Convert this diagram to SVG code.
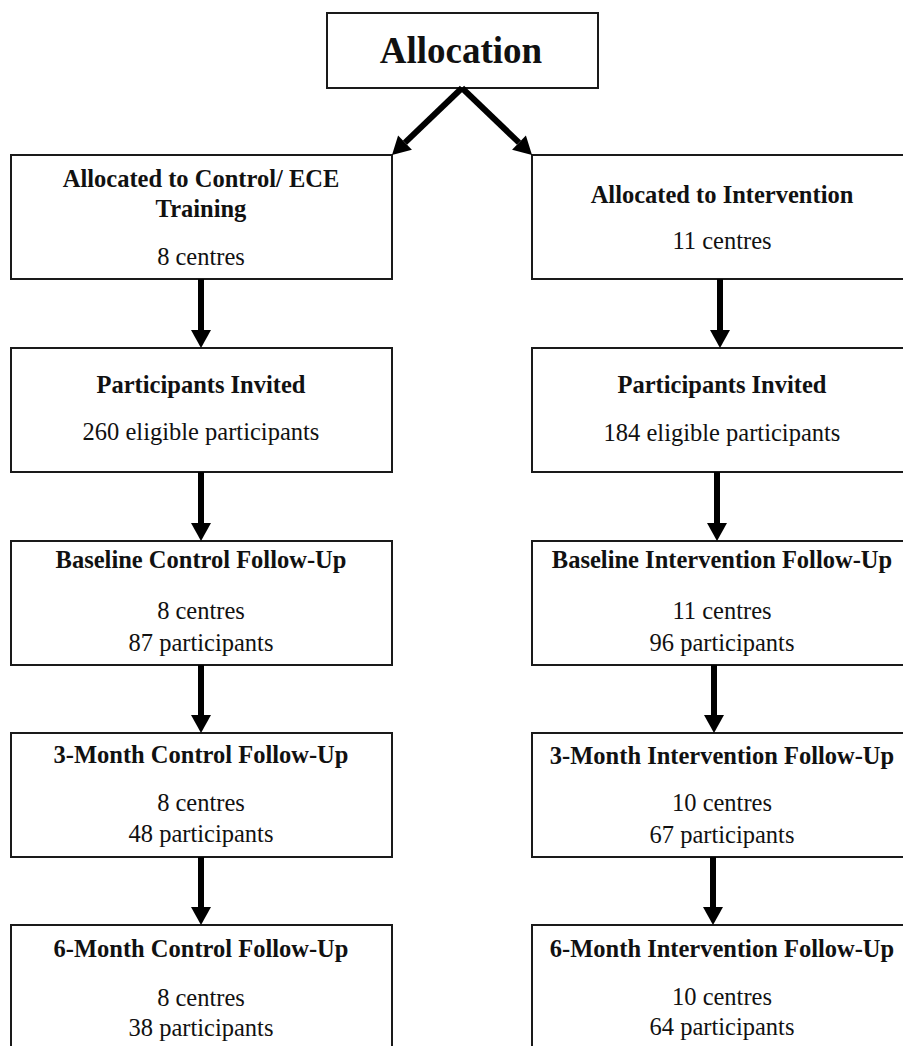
<svg xmlns="http://www.w3.org/2000/svg" width="903" height="1046" viewBox="0 0 903 1046">
<defs>
<style>
.box{fill:#fff;stroke:#1a1a1a;stroke-width:2}
.t{font-family:"Liberation Serif","Times New Roman",serif;font-size:24.5px;fill:#111;text-anchor:middle}
.b{font-weight:bold}
.big{font-family:"Liberation Serif","Times New Roman",serif;font-size:37px;font-weight:bold;fill:#111;text-anchor:middle}
.c{stroke:#000;stroke-width:6;fill:none}
</style>
<marker id="ah" markerUnits="userSpaceOnUse" markerWidth="20" markerHeight="22" refX="0" refY="10" orient="auto" overflow="visible">
<path d="M0,0 L18,10 L0,20 z" fill="#000"/>
</marker>
</defs>
<rect width="903" height="1046" fill="#fff"/>

<g id="allocation">
<rect class="box" x="327" y="13" width="271" height="75"/>
<text class="big" x="461" y="63">Allocation</text>
</g>

<g id="ctrl-alloc">
<rect class="box" x="11" y="155" width="381" height="124"/>
<text class="t b" x="201" y="187">Allocated to Control/ ECE</text>
<text class="t b" x="201" y="217">Training</text>
<text class="t" x="201" y="265">8 centres</text>
</g>
<g id="int-alloc">
<rect class="box" x="532" y="155" width="380" height="124"/>
<text class="t b" x="722" y="203">Allocated to Intervention</text>
<text class="t" x="722" y="249">11 centres</text>
</g>

<g id="ctrl-invited">
<rect class="box" x="11" y="348" width="381" height="124"/>
<text class="t b" x="201" y="393">Participants Invited</text>
<text class="t" x="201" y="440">260 eligible participants</text>
</g>
<g id="int-invited">
<rect class="box" x="532" y="348" width="380" height="124"/>
<text class="t b" x="722" y="393">Participants Invited</text>
<text class="t" x="722" y="441">184 eligible participants</text>
</g>

<g id="ctrl-baseline">
<rect class="box" x="11" y="541" width="381" height="124"/>
<text class="t b" x="201" y="568">Baseline Control Follow-Up</text>
<text class="t" x="201" y="619">8 centres</text>
<text class="t" x="201" y="651">87 participants</text>
</g>
<g id="int-baseline">
<rect class="box" x="532" y="541" width="380" height="124"/>
<text class="t b" x="722" y="568">Baseline Intervention Follow-Up</text>
<text class="t" x="722" y="619">11 centres</text>
<text class="t" x="722" y="651">96 participants</text>
</g>

<g id="ctrl-3m">
<rect class="box" x="11" y="733" width="381" height="124"/>
<text class="t b" x="201" y="763">3-Month Control Follow-Up</text>
<text class="t" x="201" y="811">8 centres</text>
<text class="t" x="201" y="842">48 participants</text>
</g>
<g id="int-3m">
<rect class="box" x="532" y="733" width="380" height="124"/>
<text class="t b" x="722" y="764">3-Month Intervention Follow-Up</text>
<text class="t" x="722" y="811">10 centres</text>
<text class="t" x="722" y="843">67 participants</text>
</g>

<g id="ctrl-6m">
<rect class="box" x="11" y="925" width="381" height="140"/>
<text class="t b" x="201" y="957">6-Month Control Follow-Up</text>
<text class="t" x="201" y="1006">8 centres</text>
<text class="t" x="201" y="1036">38 participants</text>
</g>
<g id="int-6m">
<rect class="box" x="532" y="925" width="380" height="140"/>
<text class="t b" x="722" y="957">6-Month Intervention Follow-Up</text>
<text class="t" x="722" y="1005">10 centres</text>
<text class="t" x="722" y="1035">64 participants</text>
</g>

<g id="connectors">
<path class="c" d="M462,88 L405,142.6" marker-end="url(#ah)"/>
<path class="c" d="M462,88 L519,142.6" marker-end="url(#ah)"/>
<path class="c" d="M201,279 L201,330" marker-end="url(#ah)"/>
<path class="c" d="M201,472 L201,523" marker-end="url(#ah)"/>
<path class="c" d="M201,665 L201,715" marker-end="url(#ah)"/>
<path class="c" d="M201,857 L201,907" marker-end="url(#ah)"/>
<path class="c" d="M720,279 L720,330" marker-end="url(#ah)"/>
<path class="c" d="M717,472 L717,523" marker-end="url(#ah)"/>
<path class="c" d="M714,665 L714,715" marker-end="url(#ah)"/>
<path class="c" d="M713,857 L713,907" marker-end="url(#ah)"/>
</g>
</svg>
